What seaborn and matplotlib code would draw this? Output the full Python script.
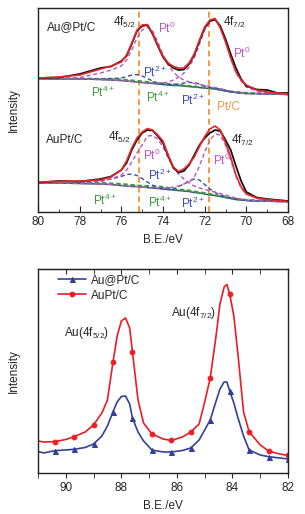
import matplotlib
matplotlib.use("Agg")
import matplotlib.pyplot as plt
import seaborn as sns
import pandas as pd

sns.set_style("ticks")
plt.rcParams["font.family"] = ["Liberation Sans", "DejaVu Sans"]
plt.rcParams["mathtext.fontset"] = "custom"
plt.rcParams["mathtext.rm"] = "Liberation Sans"
plt.rcParams["mathtext.it"] = "Liberation Sans:italic"

# ---- Pt 4f panel (binding energy, eV) ----
be_pt = [80, 79, 78, 77, 76.5, 76, 75.75, 75.5, 75.25, 75, 74.75, 74.5, 74.25, 74,
         73.75, 73.5, 73.25, 73, 72.75, 72.5, 72.25, 72, 71.75, 71.5, 71.25, 71,
         70.75, 70.5, 70.25, 70, 69.5, 69, 68.5, 68]

# Au@Pt/C (upper spectrum)
aupt_core_raw = [134, 134.5, 138, 144, 145.5, 151, 156, 168, 181, 186, 187, 178, 166, 155,
                 148, 144, 142, 142.5, 148, 157, 171, 184, 191, 192.5, 186, 173, 158, 144,
                 133, 126, 122.5, 122, 119, 119]
aupt_core_fit = [134, 135, 137, 143, 146, 150, 157, 169, 182, 187, 187.5, 179, 167, 156,
                 149, 145.5, 144, 144, 149, 158, 172, 185, 192, 193.5, 184, 170, 154, 140,
                 132, 127, 122, 120, 119, 118]
aupt_core_bg = [133, 133, 133, 132.5, 132, 131.5, 131, 130.5, 130, 129.5, 129, 128.5, 128,
                127.5, 127, 126.5, 126.5, 126, 125.5, 125, 124.5, 124, 123.5, 123, 122, 121,
                120, 119.5, 119, 118.5, 118.5, 118, 118, 117.5]
aupt_core_pt0_a = [133, 133.5, 134.5, 139, 142, 146, 152, 162, 174, 182, 185, 181, 170, 157,
                   147, 140, 135, 132, 130, 128.5, 127.5, 126.5, 125.5, 124.5, 123.5, 122,
                   121, 120, 119, 118.5, 118.5, 118, 118, 117.5]
aupt_core_pt0_b = [133, 133, 133, 132.5, 132, 131.5, 131, 130.5, 130, 129.5, 129, 129, 129,
                   129, 130, 132, 135, 139, 145, 154, 168, 182, 190, 192.5, 185, 171, 154,
                   140, 131, 125, 121, 119, 118.5, 117.5]
aupt_core_pt2 = [133, 133, 133, 133, 133.5, 134, 135.5, 137, 137.5, 136, 133.5, 131, 129,
                 128, 127.5, 127.5, 128, 129, 129.5, 129.5, 128, 126, 124.5, 123.5, 122.5,
                 121.5, 120.5, 119.5, 119, 118.5, 118.5, 118, 118, 117.5]
aupt_core_pt4 = [133.5, 133.5, 133.5, 133, 133, 132.5, 132, 131.5, 131, 130.5, 130, 129.5,
                 129, 128.5, 128, 127.5, 127, 126.5, 126, 125.5, 125, 124.5, 124, 123.5,
                 122.5, 121.5, 120.5, 120, 119.5, 119, 118.5, 118.5, 118, 118]

# AuPt/C (lower spectrum)
alloy_raw = [29.5, 31, 30.5, 33, 35.5, 42, 49, 62, 72, 79, 82, 81.5, 76, 69, 56, 44, 39.5,
             41, 47, 57, 67, 74, 79, 82, 81, 72, 62, 46, 31, 20, 14.5, 13, 12, 11]
alloy_fit = [30, 30.5, 31, 32, 35, 42, 51, 64, 74, 80, 83.5, 82, 77, 71, 57, 45, 40.5, 43,
             48, 55, 65.5, 75.5, 83, 86, 82, 69, 55, 37, 25, 18, 14, 12.5, 11.5, 10.5]
alloy_bg = [29, 29, 28.5, 28, 27.5, 26.5, 26, 25.5, 25.5, 25, 24.5, 24, 23.5, 23, 22.5, 22,
            21.5, 21, 20.5, 19.5, 19, 18, 17, 16.5, 15.5, 14.5, 13.5, 12.5, 12, 11.5, 11, 11,
            10.5, 10.5]
alloy_pt0_a = [29, 29, 29.5, 30.5, 33, 37, 42, 50, 59, 67, 76, 76.5, 73, 65, 54, 45, 38, 33,
               29, 26, 24, 22.5, 21, 20, 18.5, 17, 15.5, 14, 13, 12, 11.5, 11, 10.5, 10.5]
alloy_pt0_b = [29, 29, 28.5, 28, 27.5, 26.5, 26, 25.5, 25.5, 25, 24.5, 24, 24, 24, 24, 25,
               26, 28, 30, 35, 46, 60, 72, 78, 77, 67, 52, 36, 24, 18, 14, 12, 11, 10.5]
alloy_pt2 = [29, 29, 29.5, 31, 33, 35.5, 37.5, 38, 36.5, 33.5, 30, 27, 24.5, 23, 22.5, 23,
             25.5, 28, 31, 33, 32, 27.5, 23, 19.5, 17, 15.5, 14, 13, 12, 11.5, 11, 11, 10.5,
             10.5]
alloy_pt4 = [29.5, 29.5, 29.5, 29, 28.5, 28, 27.5, 27, 26.5, 26, 26, 25.5, 25.5, 25, 24, 23,
             22.5, 22, 21.5, 20.5, 19.5, 19, 18, 17, 16, 15, 14, 13, 12.5, 12, 11.5, 11, 11,
             10.5]

pt_ref_lines = [75.15, 71.8]

# ---- Au 4f panel ----
be_au = [91.0, 90.8, 90.4, 90.0, 89.7, 89.3, 89.0, 88.7, 88.5, 88.3, 88.15, 88.0, 87.85,
         87.7, 87.6, 87.4, 87.2, 86.9, 86.5, 86.2, 85.8, 85.5, 85.2, 85.0, 84.8, 84.6,
         84.45, 84.3, 84.2, 84.1, 83.95, 83.8, 83.6, 83.4, 83.0, 82.7, 82.3, 82.0]
au_core = [21.5, 20, 22.3, 23, 23.7, 25.5, 29, 37, 47, 61.3, 71, 76.5, 77, 69, 55, 41, 32,
           23, 21, 21, 22.5, 25, 33, 43, 53, 71, 84, 91, 91, 82, 70, 55, 37, 23, 18, 16.3,
           15, 14]
au_alloy = [32, 31, 31.3, 33.5, 36.3, 41, 48, 60, 73, 111, 137, 152, 155, 145, 121, 73, 50,
            39, 34, 32.5, 36, 41, 49, 71, 95, 135, 169, 186, 188.5, 179, 157, 118, 61, 41.3,
            28, 22, 19, 17.5]
au_marks = [2, 4, 6, 9, 14, 17, 19, 21, 24, 29, 33, 35, 37]

C_RED = "#e8262a"
C_MAG = "#c054c0"
C_BLUE = "#3b4cb8"
C_GREEN = "#3d9a3d"
C_BG = "#2a5570"
C_ORANGE = "#f49a40"

fig = plt.figure(figsize=(3.05, 5.14), dpi=100)
ax1 = fig.add_axes([0.1246, 0.5875, 0.8197, 0.3969])
ax2 = fig.add_axes([0.1246, 0.0798, 0.8197, 0.3969])

df_pt = pd.DataFrame({"be": be_pt})
series = [
    (aupt_core_bg, C_BG, "-", 1.1), (aupt_core_pt4, C_GREEN, (0, (2, 1.2)), 1.6),
    (aupt_core_pt2, C_BLUE, (0, (3, 2)), 1.0), (aupt_core_pt0_a, C_MAG, (0, (3, 2)), 1.0),
    (aupt_core_pt0_b, C_MAG, (0, (3, 2)), 1.0), (aupt_core_raw, "#111111", "-", 1.3),
    (aupt_core_fit, C_RED, "-", 1.2),
    (alloy_bg, C_BG, "-", 1.1), (alloy_pt4, C_GREEN, (0, (2, 1.2)), 1.6),
    (alloy_pt2, C_BLUE, (0, (3, 2)), 1.0), (alloy_pt0_a, C_MAG, (0, (3, 2)), 1.0),
    (alloy_pt0_b, C_MAG, (0, (3, 2)), 1.0), (alloy_raw, "#111111", "-", 1.3),
    (alloy_fit, C_RED, "-", 1.2),
]
for vals, col, ls, lw in series:
    sns.lineplot(x=df_pt["be"], y=vals, ax=ax1, color=col, linestyle=ls, lw=lw,
                 sort=False, estimator=None)
for xv in pt_ref_lines:
    ax1.axvline(xv, color=C_ORANGE, linestyle=(0, (3, 2)), lw=1.4, zorder=0)

ax1.set_xlim(80, 68)
ax1.set_ylim(0, 204)
ax1.set_xticks([80, 78, 76, 74, 72, 70, 68])
ax1.set_xticks(range(68, 81), minor=True)
ax1.set_yticks([])
ax1.tick_params(axis="x", which="both", direction="in", labelsize=8.5, pad=3)
ax1.tick_params(axis="x", which="major", length=4)
ax1.tick_params(axis="x", which="minor", length=2.5)
ax1.set_xlabel("B.E./eV", fontsize=8.5, labelpad=4)
ax1.set_ylabel("Intensity", fontsize=8.5, labelpad=13)

fs = 8.5
ax1.text(79.55, 185, "Au@Pt/C", fontsize=fs, va="center")
ax1.text(76.42, 190, r"4f$_{5/2}$", fontsize=fs, va="center")
ax1.text(74.26, 184, r"Pt$^{0}$", fontsize=fs, va="center", color=C_MAG)
ax1.text(71.14, 190, r"4f$_{7/2}$", fontsize=fs, va="center")
ax1.text(70.66, 159, r"Pt$^{0}$", fontsize=fs, va="center", color=C_MAG)
ax1.text(74.98, 140, r"Pt$^{2+}$", fontsize=fs, va="center", color=C_BLUE)
ax1.text(77.48, 120, r"Pt$^{4+}$", fontsize=fs, va="center", color=C_GREEN)
ax1.text(74.84, 115, r"Pt$^{4+}$", fontsize=fs, va="center", color=C_GREEN)
ax1.text(73.16, 112, r"Pt$^{2+}$", fontsize=fs, va="center", color=C_BLUE)
ax1.text(71.43, 105, "Pt/C", fontsize=fs, va="center", color=C_ORANGE)
ax1.text(79.64, 72, "AuPt/C", fontsize=fs, va="center")
ax1.text(76.66, 75, r"4f$_{5/2}$", fontsize=fs, va="center")
ax1.text(74.98, 57, r"Pt$^{0}$", fontsize=fs, va="center", color=C_MAG)
ax1.text(70.76, 72, r"4f$_{7/2}$", fontsize=fs, va="center")
ax1.text(71.62, 52, r"Pt$^{0}$", fontsize=fs, va="center", color=C_MAG)
ax1.text(74.74, 37, r"Pt$^{2+}$", fontsize=fs, va="center", color=C_BLUE)
ax1.text(77.34, 12, r"Pt$^{4+}$", fontsize=fs, va="center", color=C_GREEN)
ax1.text(74.74, 10, r"Pt$^{4+}$", fontsize=fs, va="center", color=C_GREEN)
ax1.text(73.16, 9, r"Pt$^{2+}$", fontsize=fs, va="center", color=C_BLUE)

# ---- Au 4f panel ----
df_au = pd.DataFrame({"be": be_au, "Au@Pt/C": au_core, "AuPt/C": au_alloy})
sns.lineplot(data=df_au, x="be", y="Au@Pt/C", ax=ax2, color="#34409a", lw=1.2,
             marker="^", ms=3.6, markevery=au_marks, mec="#34409a", label="Au@Pt/C",
             sort=False, estimator=None)
sns.lineplot(data=df_au, x="be", y="AuPt/C", ax=ax2, color="#ec1c24", lw=1.2,
             marker="o", ms=3.4, markevery=au_marks, mec="#ec1c24", label="AuPt/C",
             sort=False, estimator=None)
ax2.set_xlim(91, 82)
ax2.set_ylim(0, 204)
ax2.set_xticks([90, 88, 86, 84, 82])
ax2.set_xticks(range(82, 92), minor=True)
ax2.set_yticks([])
ax2.tick_params(axis="x", which="both", direction="out", length=3.5, labelsize=8.5,
                pad=3)
top = ax2.secondary_xaxis("top")
top.set_xticks([90, 88, 86, 84, 82])
top.set_xticks(range(82, 92), minor=True)
top.tick_params(axis="x", which="both", direction="in", length=3.5, labeltop=False)
ax2.set_xlabel("B.E./eV", fontsize=8.5, labelpad=4)
ax2.set_ylabel("Intensity", fontsize=8.5, labelpad=13)
ax2.text(90.07, 140, r"Au(4f$_{5/2}$)", fontsize=fs, va="center")
ax2.text(86.23, 160, r"Au(4f$_{7/2}$)", fontsize=fs, va="center")
ax2.legend(loc="upper left", bbox_to_anchor=(0.08, 0.975), frameon=False,
           fontsize=8.5, handlelength=2.4, borderpad=0, borderaxespad=0,
           labelspacing=0.3, handletextpad=0.4, numpoints=1)

for ax in (ax1, ax2):
    for sp in ax.spines.values():
        sp.set_linewidth(1.0)
        sp.set_color("#222222")

fig.savefig("out.png", dpi=100)
